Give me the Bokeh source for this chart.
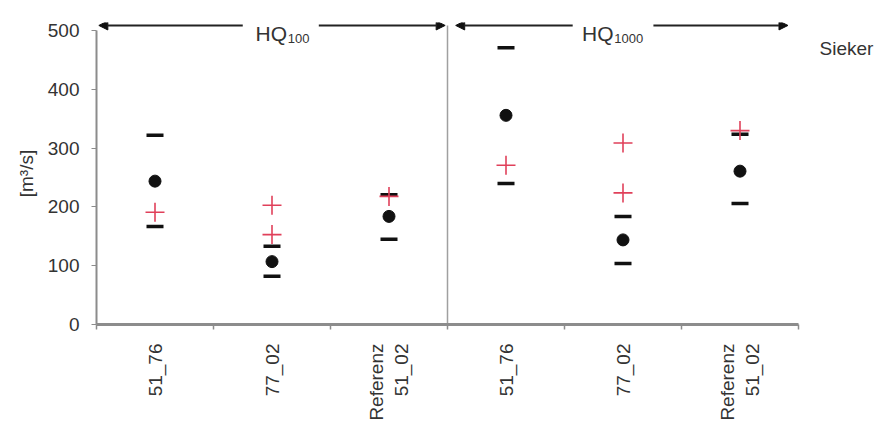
import math
from bokeh.plotting import figure
from bokeh.models import Range1d, FixedTicker, Arrow, NormalHead, Label
from bokeh.embed import file_html
from bokeh.resources import INLINE

# ---- data ----
categories = ["51_76", "77_02", "Referenz\n51_02", "51_76", "77_02", "Referenz\n51_02"]
upper_dash = [322, 133, 221, 471, 184, 324]
lower_dash = [167, 82, 145, 240, 104, 206]
dots = [244, 107, 184, 356, 144, 261]
plus_a = [191, 203, 218, 271, 309, 330]
plus_b = [float("nan"), 153, float("nan"), float("nan"), 224, float("nan")]
groups = ["100", "1000"]
per_group = 3
y_ticks = [0, 100, 200, 300, 400, 500]

FONT = "Liberation Sans"
GRAY = "#8c8c8c"
TXT = "#333333"

n = len(categories)
xc = [i + 0.5 for i in range(n)]
unit_px = 117.0
frame_w = 883 - 96

p = figure(width=883, height=425, output_backend="svg", toolbar_location=None,
           x_range=Range1d(0, frame_w / unit_px), y_range=Range1d(0, 514),
           min_border_left=96, min_border_right=0, min_border_top=22, min_border_bottom=101)
p.outline_line_color = None
p.grid.visible = False
p.background_fill_color = "white"

# y axis
ya = p.yaxis[0]
ya.ticker = FixedTicker(ticks=y_ticks)
ya.bounds = (0, 500)
ya.axis_line_color = GRAY
ya.axis_line_width = 2
ya.major_tick_line_color = GRAY
ya.major_tick_out = 5
ya.major_tick_in = 0
ya.minor_tick_line_color = None
ya.major_label_text_font = FONT
ya.major_label_text_font_size = "19px"
ya.major_label_text_color = TXT
ya.major_label_standoff = 12
ya.axis_label = "[m³/s]"
ya.axis_label_text_font = FONT
ya.axis_label_text_font_size = "19px"
ya.axis_label_text_font_style = "normal"
ya.axis_label_text_color = TXT
ya.axis_label_standoff = 8

# x axis
xa = p.xaxis[0]
xa.bounds = (0, n)
xa.ticker = FixedTicker(ticks=xc, minor_ticks=list(range(n + 1)))
xa.major_label_overrides = {x: c for x, c in zip(xc, categories)}
xa.major_label_orientation = math.pi / 2
xa.axis_line_color = GRAY
xa.axis_line_width = 3
xa.major_tick_out = 0
xa.major_tick_in = 0
xa.major_tick_line_color = None
xa.minor_tick_out = 5
xa.minor_tick_in = 0
xa.minor_tick_line_color = GRAY
xa.minor_tick_line_width = 1.5
xa.major_label_text_font = FONT
xa.major_label_text_font_size = "19px"
xa.major_label_text_color = TXT
xa.major_label_standoff = 14

# divider between groups
p.segment(x0=[per_group], y0=[0], x1=[per_group], y1=[509], line_color="#a0a0a0", line_width=1.5)

# marks
p.scatter(xc, upper_dash, marker="dash", size=17, line_width=3.5, line_color="#111111")
p.scatter(xc, lower_dash, marker="dash", size=17, line_width=3.5, line_color="#111111")
p.scatter(xc, plus_a, marker="cross", size=19, line_width=1.6, line_color="#e0405a")
p.scatter(xc, plus_b, marker="cross", size=19, line_width=1.6, line_color="#e0405a")
p.scatter(xc, dots, marker="circle", size=12, fill_color="#111111", line_color="#111111")

# group arrows with HQ labels
arrow_y = 509
text_pos = [(1.36, 1.635), (4.15, 4.425)]
gaps = [(1.25, 1.90), (4.07, 4.76)]
ends = [(0.02, 2.98), (3.07, 5.91)]
for g, (hq_x, sub_x), (gl, gr), (s, e) in zip(groups, text_pos, gaps, ends):
    p.add_layout(Arrow(x_start=gl, y_start=arrow_y, x_end=s, y_end=arrow_y,
                       line_color="#222222", line_width=2,
                       end=NormalHead(size=9, fill_color="#111111", line_color="#111111")))
    p.add_layout(Arrow(x_start=gr, y_start=arrow_y, x_end=e, y_end=arrow_y,
                       line_color="#222222", line_width=2,
                       end=NormalHead(size=9, fill_color="#111111", line_color="#111111")))
    p.add_layout(Label(x=hq_x, y=496, text="HQ", text_font=FONT, text_font_size="21px",
                       text_color=TXT, text_baseline="alphabetic"))
    p.add_layout(Label(x=sub_x, y=487, text=g, text_font=FONT, text_font_size="13px",
                       text_color=TXT, text_baseline="alphabetic"))

p.add_layout(Label(x=6.18, y=470, text="Sieker", text_font=FONT, text_font_size="19px",
                   text_color=TXT, text_baseline="middle"))

open("out.html", "w").write(file_html(p, INLINE))
